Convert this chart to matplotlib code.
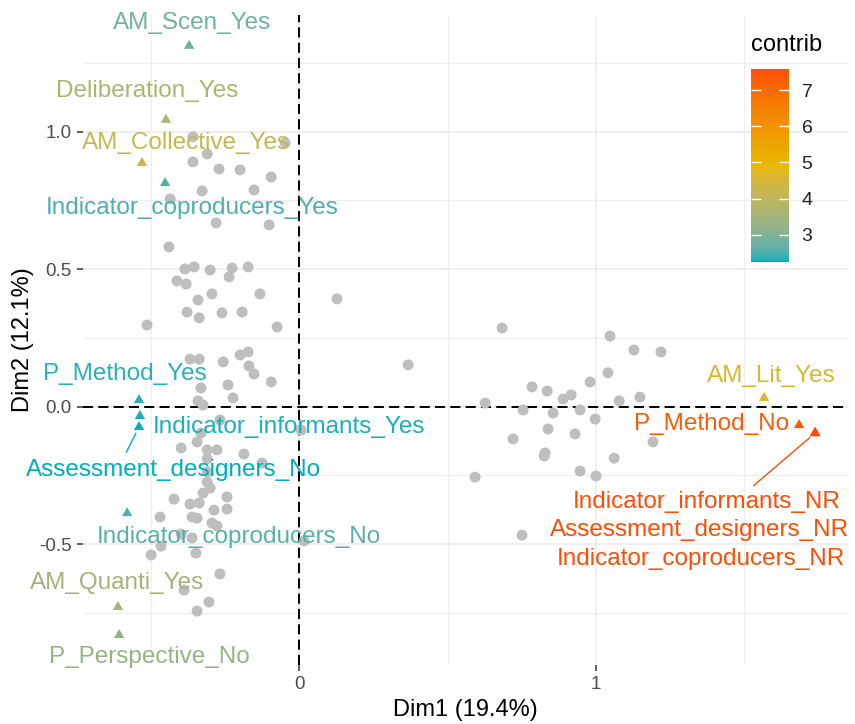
import matplotlib
matplotlib.use("Agg")
import matplotlib.pyplot as plt
import numpy as np
from matplotlib.colors import ListedColormap, Normalize, to_rgb
from matplotlib.cm import ScalarMappable

plt.rcParams['font.family'] = ['Liberation Sans', 'DejaVu Sans']
plt.rcParams['axes.unicode_minus'] = False

# individuals (grey points)
ind_x = [-0.359, -0.048, -0.311, -0.359, -0.271, -0.200, -0.095, -0.328, -0.153, -0.436,
         -0.281, -0.102, -0.440, -0.386, -0.355, -0.301, -0.227, -0.173, -0.237, -0.413,
         -0.382, -0.342, -0.295, -0.133, -0.379, -0.338, -0.261, -0.193, -0.514, -0.075,
         0.127,
         -0.369, -0.338, -0.257, -0.200, -0.173, -0.170, -0.153, -0.095, -0.332, -0.241,
         -0.224, -0.342, -0.325, -0.268, -0.332, -0.345, 0.006,
         -0.399, -0.311, -0.278, -0.187, -0.126, -0.311, -0.311, -0.311, -0.301, -0.325,
         -0.244, -0.423, -0.369, -0.338, -0.244, -0.288, -0.470, -0.362, -0.345, -0.295,
         -0.278, -0.399, -0.362, -0.467, -0.349, -0.500, -0.268, -0.389, -0.305, -0.345,
         0.016,
         0.684, 0.367, 1.048, 1.129, 1.220, 1.041, 0.981, 0.785, 0.836, 0.917,
         0.890, 1.079, 1.149, 0.627, 0.755, 0.856, 0.947, 0.998, 0.839, 0.930,
         0.721, 1.193, 0.829, 0.826, 1.062, 0.947, 1.001, 0.593, 0.751]
ind_y = [0.981, 0.959, 0.919, 0.890, 0.864, 0.861, 0.835, 0.784, 0.788, 0.755,
         0.668, 0.661, 0.581, 0.501, 0.508, 0.497, 0.504, 0.508, 0.472, 0.457,
         0.446, 0.388, 0.410, 0.410, 0.344, 0.323, 0.341, 0.344, 0.297, 0.290,
         0.392,
         0.173, 0.173, 0.163, 0.188, 0.199, 0.148, 0.119, 0.090, 0.068, 0.079,
         0.032, 0.021, 0.006, -0.048, -0.096, -0.128, -0.085,
         -0.150, -0.157, -0.157, -0.172, -0.205, -0.190, -0.237, -0.274, -0.296, -0.314,
         -0.328, -0.336, -0.354, -0.350, -0.372, -0.376, -0.401, -0.401, -0.405, -0.423,
         -0.434, -0.463, -0.477, -0.507, -0.532, -0.539, -0.608, -0.667, -0.710, -0.743,
         -0.488,
         0.286, 0.152, 0.257, 0.206, 0.199, 0.123, 0.090, 0.072, 0.057, 0.043,
         0.028, 0.021, 0.035, 0.013, -0.012, -0.023, -0.012, -0.045, -0.081, -0.099,
         -0.117, -0.128, -0.168, -0.179, -0.187, -0.234, -0.252, -0.256, -0.467]

# variable categories
var_names = ['AM_Scen_Yes', 'Deliberation_Yes', 'AM_Collective_Yes', 'Indicator_coproducers_Yes',
             'P_Method_Yes', 'Indicator_informants_Yes', 'Assessment_designers_No',
             'Indicator_coproducers_No', 'AM_Quanti_Yes', 'P_Perspective_No',
             'AM_Lit_Yes', 'P_Method_No', 'Indicator_informants_NR',
             'Assessment_designers_NR', 'Indicator_coproducers_NR']
var_x = [-0.372, -0.450, -0.531, -0.453, -0.541, -0.538, -0.541, -0.581, -0.612, -0.608,
         1.568, 1.686, 1.740, 1.740, 1.740]
var_y = [1.312, 1.043, 0.886, 0.813, 0.024, -0.034, -0.074, -0.387, -0.728, -0.830,
         0.032, -0.067, -0.096, -0.096, -0.096]
var_contrib = [2.8, 3.7, 4.2, 2.5, 2.35, 2.3, 2.25, 2.6, 3.5, 3.3,
               4.6, 7.3, 7.58, 7.58, 7.58]

gradient_cols = ['#00AFBB', '#E7B800', '#FC4E07']

# repelled label positions (data coords) and leader lines
label_pos = {
    'AM_Scen_Yes': (-0.362, 1.395),
    'Deliberation_Yes': (-0.514, 1.148),
    'AM_Collective_Yes': (-0.382, 0.959),
    'Indicator_coproducers_Yes': (-0.362, 0.723),
    'P_Method_Yes': (-0.588, 0.119),
    'Indicator_informants_Yes': (-0.035, -0.074),
    'Assessment_designers_No': (-0.426, -0.230),
    'Indicator_coproducers_No': (-0.203, -0.474),
    'AM_Quanti_Yes': (-0.615, -0.641),
    'P_Perspective_No': (-0.507, -0.910),
    'AM_Lit_Yes': (1.591, 0.112),
    'P_Method_No': (1.389, -0.063),
    'Indicator_informants_NR': (1.375, -0.347),
    'Assessment_designers_NR': (1.351, -0.449),
    'Indicator_coproducers_NR': (1.355, -0.554),
}
leaders = {'Assessment_designers_No': (0.33, 1.0), 'Indicator_informants_NR': (0.65, 1.0)}


# gradient interpolated in Lab space, like ggplot's gradientn
def to_lab(rgb):
    c = np.array(rgb)
    c = np.where(c > 0.04045, ((c + 0.055) / 1.055) ** 2.4, c / 12.92)
    m = np.array([[0.4124, 0.3576, 0.1805], [0.2126, 0.7152, 0.0722], [0.0193, 0.1192, 0.9505]])
    xyz = m @ c / np.array([0.95047, 1.0, 1.08883])
    f = np.where(xyz > 0.008856, np.cbrt(xyz), 7.787 * xyz + 16 / 116)
    return np.array([116 * f[1] - 16, 500 * (f[0] - f[1]), 200 * (f[1] - f[2])])


def from_lab(lab):
    fy = (lab[0] + 16) / 116
    fx = fy + lab[1] / 500
    fz = fy - lab[2] / 200
    f = np.array([fx, fy, fz])
    xyz = np.where(f ** 3 > 0.008856, f ** 3, (f - 16 / 116) / 7.787) * np.array([0.95047, 1.0, 1.08883])
    m = np.array([[3.2406, -1.5372, -0.4986], [-0.9689, 1.8758, 0.0415], [0.0557, -0.2040, 1.0570]])
    c = m @ xyz
    c = np.where(c > 0.0031308, 1.055 * np.abs(c) ** (1 / 2.4) - 0.055, 12.92 * c)
    return np.clip(c, 0, 1)


labs = [to_lab(to_rgb(c)) for c in gradient_cols]
steps = np.linspace(0, 1, 256)
cols = []
for t in steps:
    seg = min(int(t * 2), 1)
    u = t * 2 - seg
    cols.append(from_lab(labs[seg] * (1 - u) + labs[seg + 1] * u))
cmap = ListedColormap(cols)
norm = Normalize(vmin=min(var_contrib), vmax=max(var_contrib))

fig = plt.figure(figsize=(8.55, 7.24), dpi=100)
ax = fig.add_axes([83 / 855, 1 - 665 / 724, (848 - 83) / 855, (665 - 15) / 724])
ax.set_xlim(-0.730, 1.851)
ax.set_ylim(-0.939, 1.424)

# theme_minimal style grid
ax.set_xticks([0, 1])
ax.set_xticklabels(['0', '1'])
ax.set_yticks([-0.5, 0.0, 0.5, 1.0])
ax.set_yticklabels(['-0.5', '0.0', '0.5', '1.0'])
ax.set_xticks([-0.5, 0.5, 1.5], minor=True)
ax.set_yticks([-0.75, -0.25, 0.25, 0.75, 1.25], minor=True)
ax.grid(which='major', color='#EBEBEB', lw=1.1)
ax.grid(which='minor', color='#EFEFEF', lw=0.9)
ax.set_axisbelow(True)
for s in ax.spines.values():
    s.set_visible(False)
ax.tick_params(which='major', length=4, width=1.1, color='#333333', labelsize=13.5,
               labelcolor='#4D4D4D', pad=4)
ax.tick_params(which='minor', length=0)

ax.axhline(0, color='black', lw=1.45, ls=(0, (5, 2.6)), zorder=1)
ax.axvline(0, color='black', lw=1.45, ls=(0, (5, 2.6)), zorder=1)

ax.scatter(ind_x, ind_y, s=62, color='#BEBEBE', edgecolors='none', zorder=2)

tri = [(0, 0.577), (-0.5, -0.289), (0.5, -0.289)]
ax.scatter(var_x, var_y, s=75, marker=tri, c=var_contrib, cmap=cmap, norm=norm,
           edgecolors='none', zorder=3)

for name, x, y, c in zip(var_names, var_x, var_y, var_contrib):
    col = cmap(norm(c))
    tx, ty = label_pos[name]
    if name in leaders:
        ax.annotate(name, xy=(x, y), xytext=(tx, ty), ha='center', va='center',
                    fontsize=17.5, color=col, zorder=4,
                    arrowprops=dict(arrowstyle='-', color=col, lw=1.0,
                                    relpos=leaders[name], shrinkA=3, shrinkB=5))
    else:
        ax.text(tx, ty, name, ha='center', va='center', fontsize=17.5, color=col, zorder=4)

ax.set_xlabel('Dim1 (19.4%)', fontsize=17, labelpad=4)
ax.set_ylabel('Dim2 (12.1%)', fontsize=17, labelpad=4)

# colour bar legend placed inside the panel, top right
cax = fig.add_axes([751 / 855, 1 - 262 / 724, 38 / 855, 193 / 724])
cb = fig.colorbar(ScalarMappable(norm=norm, cmap=cmap), cax=cax)
cb.outline.set_visible(False)
cb.set_ticks([3, 4, 5, 6, 7])
cax.tick_params(direction='in', length=7, width=1, color='white', left=True, right=True,
                labelsize=14, labelcolor='#222222', pad=9)
fig.text(751 / 855, 1 - 45 / 724, 'contrib', fontsize=17, ha='left', va='center')

fig.savefig('out.png', dpi=100)
